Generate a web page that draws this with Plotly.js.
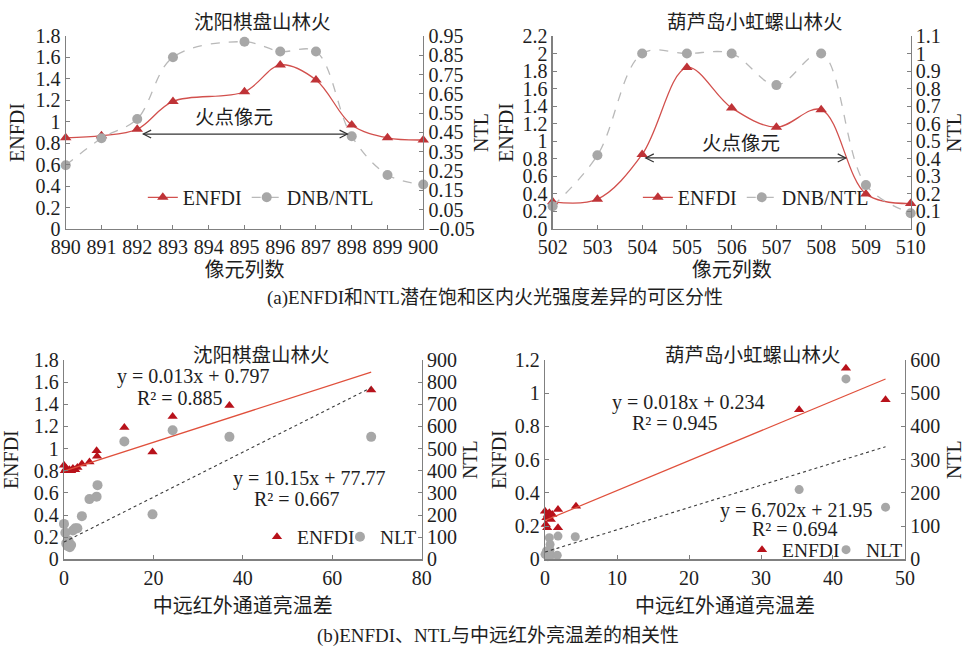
<!DOCTYPE html>
<html>
<head>
<meta charset="utf-8">
<script src="https://cdn.plot.ly/plotly-3.0.1.min.js"></script>
<style>html,body{margin:0;padding:0;background:#fff;}#chart{width:965px;height:647px;}</style>
</head>
<body>
<div id="chart"></div>
<script>
// ---------- data ----------
// (a) left: 沈阳棋盘山林火
const colsA1 = [890, 891, 892, 893, 895, 896, 897, 898, 899, 900];
const enfdiA1 = [0.85, 0.87, 0.93, 1.19, 1.28, 1.53, 1.39, 0.97, 0.85, 0.83];
const ntlA1 = [0.28, 0.42, 0.52, 0.84, 0.92, 0.87, 0.87, 0.43, 0.23, 0.18];
const fireA1 = [892.17, 897.88, 0.885];   // arrow start, end, height
// (a) right: 葫芦岛小虹螺山林火
const colsA2 = [502, 503, 504, 505, 506, 507, 508, 509, 510];
const enfdiA2 = [0.31, 0.34, 0.85, 1.84, 1.38, 1.16, 1.36, 0.40, 0.29];
const ntlA2 = [0.13, 0.42, 1.0, 1.0, 1.0, 0.82, 1.0, 0.25, 0.09];
const fireA2 = [504.08, 508.55, 0.81];

// (b) left: 沈阳棋盘山林火
const dtB1e = [0, 0.2, 0.5, 0.8, 1.2, 1.6, 2.0, 2.5, 3.0, 4.0, 5.7, 7.3, 7.4, 13.5, 19.8, 24.3, 37.0, 68.7];
const enfdiB1 = [0.85, 0.80, 0.82, 0.80, 0.81, 0.80, 0.82, 0.81, 0.83, 0.86, 0.88, 0.98, 0.93, 1.19, 0.97, 1.29, 1.39, 1.53];
const dtB1n = [0, 0.3, 0.5, 0.8, 1.0, 1.3, 1.6, 2.0, 2.5, 3.0, 4.0, 5.7, 7.3, 7.5, 13.5, 19.8, 24.3, 37.0, 68.7];
const ntlB1 = [160, 120, 72, 60, 85, 55, 65, 130, 140, 140, 195, 272, 283, 335, 532, 203, 583, 553, 553];
const fitB1e = [0.013, 0.797];
const fitB1n = [10.15, 77.77];
// (b) right: 葫芦岛小虹螺山林火
const dtB2e = [0, 0.1, 0.2, 0.3, 0.4, 0.6, 0.8, 1.0, 1.8, 1.8, 4.3, 35.3, 41.8, 47.3];
const enfdiB2 = [0.29, 0.21, 0.25, 0.19, 0.27, 0.28, 0.24, 0.27, 0.30, 0.19, 0.32, 0.90, 1.15, 0.96];
const dtB2n = [0, 0.2, 0.4, 0.6, 0.7, 0.7, 0.8, 1.7, 1.8, 4.2, 35.3, 41.8, 47.3];
const ntlB2 = [15, 25, 8, 65, 45, 28, 12, 12, 70, 68, 210, 543, 157];
const fitB2e = [0.018, 0.234];
const fitB2n = [6.702, 21.95];

// ---------- styling ----------
const FONT = 'Liberation Serif, "Noto Sans CJK SC", serif';
const TXT = '#1e1e1e';
const AX = '#808080';
const RED_LINE = '#d2504d', RED_MK = '#bf3337';
const RED_B = '#b8121b', RED_FIT = '#e0503c';
const GRAY_MK = '#a7a7a7', GRAY_LINE = '#b9b9b9';

function fitLine(coef, xs) {
  const x0 = Math.min(...xs), x1 = Math.max(...xs);
  return {x: [x0, x1], y: [coef[0]*x0 + coef[1], coef[0]*x1 + coef[1]]};
}

const traces = [];
function lineTraces(cols, e, n, xa, ya, yb, leg) {
  traces.push({x: cols, y: e, xaxis: xa, yaxis: ya, name: 'ENFDI', legend: leg, type: 'scatter',
    mode: 'lines+markers', cliponaxis: false,
    line: {color: RED_LINE, width: 1.3, shape: 'spline', smoothing: 1},
    marker: {symbol: 'triangle-up', size: 10, color: RED_MK}});
  traces.push({x: cols, y: n, xaxis: xa, yaxis: yb, name: 'DNB/NTL', legend: leg, type: 'scatter',
    mode: 'lines+markers', cliponaxis: false,
    line: {color: GRAY_LINE, width: 1.3, dash: 'dash', shape: 'spline', smoothing: 1},
    marker: {symbol: 'circle', size: 10, color: GRAY_MK}});
}
lineTraces(colsA1, enfdiA1, ntlA1, 'x', 'y', 'y2', 'legend');
lineTraces(colsA2, enfdiA2, ntlA2, 'x2', 'y3', 'y4', 'legend2');

function scatterTraces(xe, e, xn, n, fe, fn, xa, ya, yb, legE, legN, csize, tsize) {
  const l1 = fitLine(fe, xe), l2 = fitLine(fn, xn);
  traces.push({x: xn, y: n, xaxis: xa, yaxis: yb, name: 'NLT', legend: legN, type: 'scatter', mode: 'markers',
    cliponaxis: false, marker: {symbol: 'circle', size: csize, color: GRAY_MK}});
  traces.push({x: l2.x, y: l2.y, xaxis: xa, yaxis: yb, type: 'scatter', mode: 'lines', showlegend: false,
    line: {color: '#3a3a3a', width: 1.1, dash: 'dot'}, hoverinfo: 'skip'});
  traces.push({x: xe, y: e, xaxis: xa, yaxis: ya, name: 'ENFDI', legend: legE, type: 'scatter', mode: 'markers',
    cliponaxis: false, marker: {symbol: 'triangle-up', size: tsize, color: RED_B}});
  traces.push({x: l1.x, y: l1.y, xaxis: xa, yaxis: ya, type: 'scatter', mode: 'lines', showlegend: false,
    line: {color: RED_FIT, width: 1.2}, hoverinfo: 'skip'});
}
scatterTraces(dtB1e, enfdiB1, dtB1n, ntlB1, fitB1e, fitB1n, 'x3', 'y5', 'y6', 'legend3', 'legend5', 10, 9);
scatterTraces(dtB2e, enfdiB2, dtB2n, ntlB2, fitB2e, fitB2n, 'x4', 'y7', 'y8', 'legend4', 'legend6', 9, 9);

// ---------- axes ----------
const tickFont = {family: FONT, size: 20, color: TXT};
const titleFont = {family: FONT, size: 20, color: TXT};
function xAx(domain, anchor, range, dtick, title, standoff) {
  return {domain: domain, anchor: anchor, range: range, dtick: dtick, tick0: 0,
    showline: true, linecolor: AX, linewidth: 1.2, ticks: 'inside', ticklen: 4, tickcolor: AX,
    showgrid: false, zeroline: false, tickfont: tickFont, fixedrange: true,
    title: {text: title, font: titleFont, standoff: standoff}};
}
function yAx(domain, anchor, range, dtick, tick0, title, side, overlay, standoff) {
  const a = {domain: domain, anchor: anchor, range: range, dtick: dtick, tick0: tick0, side: side,
    showline: true, linecolor: AX, linewidth: 1.2, ticks: 'inside', ticklen: 4, tickcolor: AX,
    showgrid: false, zeroline: false, tickfont: tickFont, fixedrange: true,
    title: {text: title, font: titleFont, standoff: standoff}};
  if (overlay) a.overlaying = overlay;
  return a;
}
const dxA1 = [0.0681, 0.4386], dxA2 = [0.5727, 0.9437];
const dxB1 = [0.0663, 0.4370], dxB2 = [0.5648, 0.9378];
const dyA = [0.6461, 0.9444], dyB = [0.1355, 0.4436];

function chevrons(x0, x1, y, xr, yr, dx, dy) {
  const st = {color: '#333', width: 1.2};
  return [
    {type: 'line', xref: xr, yref: yr, x0: x0, x1: x1, y0: y, y1: y, line: st},
    {type: 'path', xref: xr, yref: yr, line: st,
      path: `M ${x0+dx} ${y+dy} L ${x0} ${y} L ${x0+dx} ${y-dy}`},
    {type: 'path', xref: xr, yref: yr, line: st,
      path: `M ${x1-dx} ${y+dy} L ${x1} ${y} L ${x1-dx} ${y-dy}`}
  ];
}

function ann(text, x, y, size, xref, yref) {
  return {text: text, x: x, y: y, xref: xref || 'paper', yref: yref || 'paper', showarrow: false,
    xanchor: 'center', yanchor: 'middle', font: {family: FONT, size: size || 20, color: TXT}};
}

const legBase = {orientation: 'h', bgcolor: 'rgba(0,0,0,0)', font: {family: FONT, size: 20, color: TXT},
  xanchor: 'left', yanchor: 'middle', tracegroupgap: 0, itemclick: false, itemdoubleclick: false};
const legSmall = Object.assign({}, legBase, {font: {family: FONT, size: 19.5, color: TXT}, itemwidth: 30});

const layout = {
  width: 965, height: 647, margin: {l: 0, r: 0, t: 0, b: 0},
  paper_bgcolor: '#fff', plot_bgcolor: '#fff', font: {family: FONT, color: TXT},
  xaxis: xAx(dxA1, 'y', [890, 900], 1, '像元列数', 5),
  yaxis: yAx(dyA, 'x', [0, 1.8], 0.2, 0, 'ENFDI', 'left', null, 5),
  yaxis2: yAx(dyA, 'x', [-0.05, 0.95], 0.1, -0.05, 'NTL', 'right', 'y', 0),
  xaxis2: xAx(dxA2, 'y3', [502, 510], 1, '像元列数', 5),
  yaxis3: yAx(dyA, 'x2', [0, 2.2], 0.2, 0, 'ENFDI', 'left', null, 3),
  yaxis4: yAx(dyA, 'x2', [0, 1.1], 0.1, 0, 'NTL', 'right', 'y3', 7),
  xaxis3: xAx(dxB1, 'y5', [0, 80], 20, '中远红外通道亮温差', 11),
  yaxis5: yAx(dyB, 'x3', [0, 1.8], 0.2, 0, 'ENFDI', 'left', null, 10),
  yaxis6: yAx(dyB, 'x3', [0, 900], 100, 0, 'NTL', 'right', 'y5', 7),
  xaxis4: xAx(dxB2, 'y7', [0, 50], 10, '中远红外通道亮温差', 11),
  yaxis7: yAx(dyB, 'x4', [0, 1.2], 0.2, 0, 'ENFDI', 'left', null, 2),
  yaxis8: yAx(dyB, 'x4', [0, 600], 100, 0, 'NTL', 'right', 'y7', 9),
  legend: Object.assign({}, legBase, {x: 0.148, y: 0.695}),
  legend2: Object.assign({}, legBase, {x: 0.661, y: 0.695}),
  legend3: Object.assign({}, legSmall, {x: 0.2663, y: 0.17}),
  legend5: Object.assign({}, legSmall, {x: 0.3523, y: 0.17}),
  legend4: Object.assign({}, legSmall, {x: 0.7689, y: 0.15}),
  legend6: Object.assign({}, legSmall, {x: 0.8560, y: 0.15}),
  shapes: [].concat(
    chevrons(fireA1[0], fireA1[1], fireA1[2], 'x', 'y', 0.22, 0.037),
    chevrons(fireA2[0], fireA2[1], fireA2[2], 'x2', 'y3', 0.18, 0.046)
  ),
  annotations: [
    ann('沈阳棋盘山林火', 0.2725, 0.9645, 19.5),
    ann('葫芦岛小虹螺山林火', 0.7824, 0.9645, 19.5),
    ann('火点像元', 894.7, 1.04, 19.5, 'x', 'y'),
    ann('火点像元', 506.2, 0.98, 19.5, 'x2', 'y3'),
    ann('(a)ENFDI和NTL潜在饱和区内火光强度差异的可区分性', 0.513, 0.5394, 19),
    ann('沈阳棋盘山林火', 0.2715, 0.4513, 19.5),
    ann('葫芦岛小虹螺山林火', 0.7806, 0.4513, 19.5),
    ann('y = 0.013x + 0.797', 0.2, 0.4178),
    ann('R² = 0.885', 0.1865, 0.3849),
    ann('y = 10.15x + 77.77', 0.3212, 0.2612),
    ann('R² = 0.667', 0.3078, 0.2287),
    ann('y = 0.018x + 0.234', 0.7133, 0.3776),
    ann('R² = 0.945', 0.6995, 0.3457),
    ann('y = 6.702x + 21.95', 0.8256, 0.2117),
    ann('R² = 0.694', 0.8238, 0.1819),
    ann('(b)ENFDI、NTL与中远红外亮温差的相关性', 0.516, 0.017, 19)
  ]
};

Plotly.newPlot('chart', traces, layout, {displayModeBar: false, staticPlot: true});
</script>
</body>
</html>
